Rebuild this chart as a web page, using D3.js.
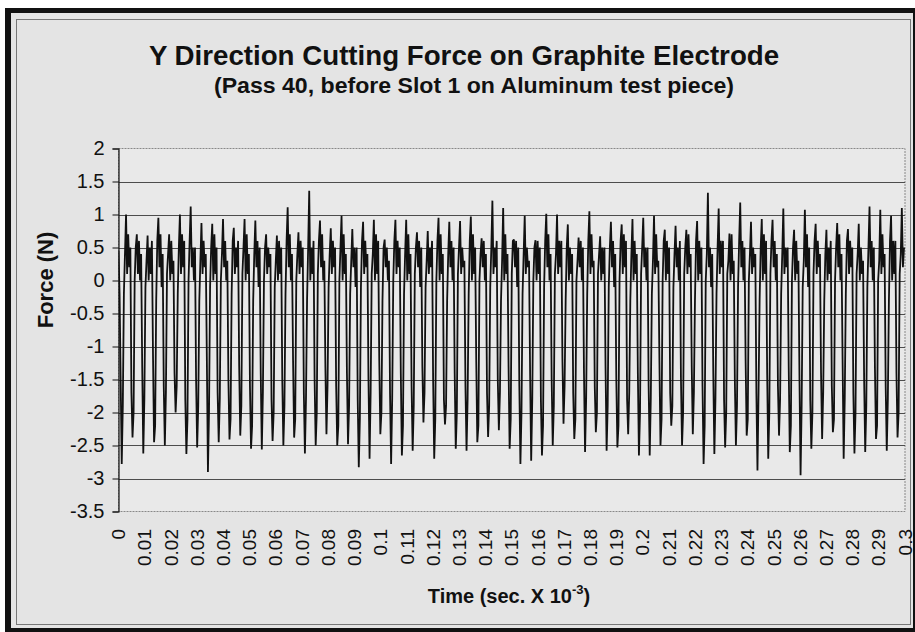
<!DOCTYPE html>
<html>
<head>
<meta charset="utf-8">
<script src="https://cdn.jsdelivr.net/npm/d3@7"></script>
<style>
  body { margin: 0; background: #fff; }
  svg { display: block; font-family: Arial, "Liberation Sans", sans-serif; }
</style>
</head>
<body>
<div id="chart"></div>
<script>
// Y force samples. Each row is one tool-pass cycle:
// [before dip, dip minimum, after dip, rising, top band ..., peak, top band ...]
const leadIn = [0.45, -0.2];
const forceByCycle = [
  [-1.5, -2.78, -1.9, -0.2, 0.4, 1.0, 0.1, 0.7, 0.2, 0.5],
  [-1.7, -2.38, -2.0, 0.0, 0.5, 0.7, 0.1, 0.6, 0.0, 0.4],
  [-1.3, -2.62, -1.8, -0.1, 0.3, 0.68, 0.0, 0.5, 0.1, 0.6],
  [-1.1, -2.45, -2.2, -0.3, 0.6, 0.95, 0.2, 0.7, -0.1, 0.4],
  [-1.6, -2.5, -1.7, 0.1, 0.4, 0.7, 0.0, 0.6, 0.1, 0.3],
  [-1.4, -2.0, -1.6, -0.2, 0.5, 1.0, 0.1, 0.7, 0.2, 0.6],
  [-1.8, -2.63, -2.1, 0.0, 0.6, 1.12, 0.2, 0.5, 0.0, 0.5],
  [-1.5, -2.53, -1.9, -0.3, 0.3, 0.87, 0.1, 0.6, 0.2, 0.4],
  [-1.2, -2.9, -2.0, -0.1, 0.5, 0.86, 0.0, 0.7, 0.1, 0.5],
  [-1.7, -2.45, -1.8, 0.0, 0.4, 0.93, 0.2, 0.6, 0.0, 0.3],
  [-1.5, -2.41, -2.1, -0.2, 0.6, 0.8, 0.1, 0.5, 0.2, 0.6],
  [-1.3, -2.35, -1.9, 0.1, 0.5, 0.93, 0.0, 0.7, 0.1, 0.4],
  [-1.6, -2.55, -2.2, -0.3, 0.4, 0.91, 0.2, 0.6, -0.1, 0.5],
  [-1.4, -2.56, -1.7, 0.0, 0.5, 0.7, 0.1, 0.5, 0.2, 0.4],
  [-1.8, -2.43, -2.0, -0.1, 0.3, 0.68, 0.0, 0.6, 0.1, 0.5],
  [-1.5, -2.5, -1.9, -0.2, 0.6, 1.11, 0.2, 0.7, 0.0, 0.4],
  [-1.2, -2.38, -2.1, 0.0, 0.4, 0.73, 0.1, 0.6, 0.2, 0.5],
  [-1.7, -2.62, -1.8, -0.3, 0.5, 1.36, 0.0, 0.5, 0.1, 0.6],
  [-1.5, -2.5, -2.0, 0.1, 0.6, 0.91, 0.2, 0.7, 0.0, 0.3],
  [-1.3, -2.33, -1.6, -0.1, 0.4, 0.79, 0.1, 0.6, 0.2, 0.5],
  [-1.6, -2.5, -2.2, 0.0, 0.5, 0.98, 0.0, 0.7, 0.1, 0.4],
  [-1.4, -2.48, -1.9, -0.2, 0.3, 0.78, 0.2, 0.5, -0.1, 0.5],
  [-1.8, -2.83, -2.1, -0.1, 0.6, 0.89, 0.1, 0.6, 0.2, 0.4],
  [-1.5, -2.7, -1.7, 0.1, 0.4, 0.92, 0.0, 0.7, 0.1, 0.6],
  [-1.2, -2.33, -2.0, -0.3, 0.5, 0.62, 0.2, 0.5, 0.0, 0.3],
  [-1.7, -2.78, -1.8, 0.0, 0.6, 0.92, 0.1, 0.6, 0.2, 0.5],
  [-1.4, -2.65, -2.2, -0.2, 0.4, 0.92, 0.0, 0.7, 0.1, 0.4],
  [-1.6, -2.58, -1.9, 0.1, 0.5, 0.73, 0.2, 0.6, -0.1, 0.5],
  [-1.3, -2.15, -1.7, -0.1, 0.3, 0.75, 0.1, 0.5, 0.2, 0.6],
  [-1.5, -2.7, -2.1, 0.0, 0.6, 0.95, 0.0, 0.7, 0.1, 0.4],
  [-1.8, -2.18, -1.9, -0.3, 0.4, 0.89, 0.2, 0.6, 0.0, 0.5],
  [-1.4, -2.55, -2.0, 0.1, 0.5, 0.9, 0.1, 0.5, 0.2, 0.3],
  [-1.6, -2.58, -1.8, -0.2, 0.6, 0.97, 0.0, 0.7, 0.1, 0.5],
  [-1.2, -2.45, -2.2, 0.0, 0.4, 0.64, 0.2, 0.6, 0.0, 0.4],
  [-1.7, -2.37, -1.9, -0.1, 0.5, 1.21, 0.1, 0.5, 0.2, 0.6],
  [-1.5, -2.27, -1.7, -0.3, 0.3, 1.1, 0.0, 0.7, 0.1, 0.4],
  [-1.3, -2.55, -2.1, 0.1, 0.6, 0.62, 0.2, 0.6, -0.1, 0.5],
  [-1.6, -2.78, -2.0, -0.2, 0.4, 0.98, 0.1, 0.5, 0.2, 0.3],
  [-1.4, -2.73, -1.8, 0.0, 0.5, 0.61, 0.0, 0.6, 0.1, 0.5],
  [-1.8, -2.65, -2.2, -0.1, 0.6, 1.01, 0.2, 0.7, 0.0, 0.4],
  [-1.5, -2.5, -1.9, 0.1, 0.4, 1.0, 0.1, 0.6, 0.2, 0.6],
  [-1.2, -2.17, -1.6, -0.3, 0.5, 0.85, 0.0, 0.5, 0.1, 0.4],
  [-1.7, -2.4, -2.1, 0.0, 0.3, 0.65, 0.2, 0.6, 0.0, 0.5],
  [-1.4, -2.6, -1.8, -0.2, 0.6, 1.05, 0.1, 0.7, 0.2, 0.3],
  [-1.6, -2.3, -2.0, 0.1, 0.4, 0.67, 0.0, 0.5, 0.1, 0.5],
  [-1.3, -2.58, -1.9, -0.1, 0.5, 0.89, 0.2, 0.6, -0.1, 0.4],
  [-1.5, -2.53, -2.2, 0.0, 0.6, 0.85, 0.1, 0.7, 0.2, 0.6],
  [-1.8, -2.33, -1.7, -0.3, 0.4, 0.93, 0.0, 0.6, 0.1, 0.4],
  [-1.4, -2.65, -2.0, 0.1, 0.5, 0.95, 0.2, 0.5, 0.0, 0.5],
  [-1.6, -2.65, -1.8, -0.2, 0.3, 0.98, 0.1, 0.7, 0.2, 0.3],
  [-1.2, -2.5, -2.1, 0.0, 0.6, 0.77, 0.0, 0.6, 0.1, 0.5],
  [-1.7, -2.2, -1.9, -0.1, 0.4, 0.83, 0.2, 0.5, 0.0, 0.6],
  [-1.5, -2.5, -2.0, 0.1, 0.5, 0.77, 0.1, 0.7, 0.2, 0.4],
  [-1.3, -2.33, -1.7, -0.3, 0.6, 0.9, 0.0, 0.6, 0.1, 0.5],
  [-1.6, -2.78, -2.2, 0.0, 0.4, 1.33, 0.2, 0.5, -0.1, 0.4],
  [-1.4, -2.63, -1.8, -0.2, 0.5, 1.09, 0.1, 0.6, 0.2, 0.6],
  [-1.8, -2.53, -2.0, 0.1, 0.3, 0.71, 0.0, 0.7, 0.1, 0.3],
  [-1.5, -2.5, -1.9, -0.1, 0.6, 1.18, 0.2, 0.6, 0.0, 0.5],
  [-1.2, -2.35, -2.1, 0.0, 0.4, 0.89, 0.1, 0.5, 0.2, 0.4],
  [-1.7, -2.88, -1.7, -0.3, 0.5, 0.93, 0.0, 0.7, 0.1, 0.6],
  [-1.4, -2.7, -2.0, 0.1, 0.6, 0.92, 0.2, 0.6, 0.0, 0.4],
  [-1.6, -2.35, -1.8, -0.2, 0.4, 1.09, 0.1, 0.5, 0.2, 0.5],
  [-1.3, -2.6, -2.2, 0.0, 0.5, 0.77, 0.0, 0.6, 0.1, 0.3],
  [-1.5, -2.95, -1.9, -0.1, 0.3, 1.07, 0.2, 0.7, -0.1, 0.5],
  [-1.8, -2.55, -2.0, 0.1, 0.6, 0.86, 0.1, 0.6, 0.2, 0.4],
  [-1.4, -2.4, -1.7, -0.3, 0.4, 0.77, 0.0, 0.5, 0.1, 0.6],
  [-1.6, -2.3, -2.1, 0.0, 0.5, 0.87, 0.2, 0.7, 0.0, 0.4],
  [-1.2, -2.7, -1.8, -0.2, 0.6, 0.78, 0.1, 0.6, 0.2, 0.5],
  [-1.7, -2.62, -2.0, 0.1, 0.4, 0.86, 0.0, 0.5, 0.1, 0.3],
  [-1.5, -2.6, -1.9, -0.1, 0.5, 1.12, 0.2, 0.6, 0.0, 0.5],
  [-1.3, -2.4, -2.2, 0.0, 0.3, 1.07, 0.1, 0.7, 0.2, 0.4],
  [-1.6, -2.58, -1.8, -0.3, 0.6, 0.98, 0.0, 0.6, 0.1, 0.6],
  [-1.4, -2.38, -2.0, 0.1, 0.4, 1.1, 0.2, 0.5]
];
const sampleStep = 0.000411; // sec x 10^-3 between samples

const yTicks = [2, 1.5, 1, 0.5, 0, -0.5, -1, -1.5, -2, -2.5, -3, -3.5];
const xTickLabels = ["0", "0.01", "0.02", "0.03", "0.04", "0.05", "0.06", "0.07", "0.08", "0.09",
  "0.1", "0.11", "0.12", "0.13", "0.14", "0.15", "0.16", "0.17", "0.18", "0.19",
  "0.2", "0.21", "0.22", "0.23", "0.24", "0.25", "0.26", "0.27", "0.28", "0.29", "0.3"];

const width = 915;
const height = 632;
const plot = { left: 118.5, right: 905, top: 148.5, bottom: 511.5 };

const svg = d3.select("#chart").append("svg")
  .attr("width", width)
  .attr("height", height);

// outer frame
svg.append("rect").attr("x", 5).attr("y", 8).attr("width", 910).attr("height", 624).attr("fill", "#111");
svg.append("rect").attr("x", 11).attr("y", 13).attr("width", 902).attr("height", 615).attr("fill", "#e4e4e4");
svg.append("rect").attr("x", 16.5).attr("y", 19.5).attr("width", 894).attr("height", 605)
  .attr("fill", "none").attr("stroke", "#777").attr("stroke-width", 1);

const x = d3.scaleLinear().domain([0, 0.3]).range([plot.left, plot.right]);
const y = d3.scaleLinear().domain([-3.5, 2]).range([plot.bottom, plot.top]);

// plot area
svg.append("rect")
  .attr("x", plot.left).attr("y", plot.top)
  .attr("width", plot.right - plot.left).attr("height", plot.bottom - plot.top)
  .attr("fill", "#e9e9e9")
  .attr("stroke", "#888").attr("stroke-dasharray", "2,1");

// horizontal gridlines
svg.append("g")
  .selectAll("line")
  .data(yTicks.filter(d => d < 2 && d > -3.5))
  .join("line")
  .attr("x1", plot.left).attr("x2", plot.right)
  .attr("y1", d => Math.round(y(d)) + 0.5).attr("y2", d => Math.round(y(d)) + 0.5)
  .attr("stroke", "#4d4d4d").attr("stroke-width", 1.2);

// signal
const series = leadIn.concat(forceByCycle.flat());
const line = d3.line()
  .x((d, i) => x(i * sampleStep))
  .y(d => y(d));

svg.append("clipPath").attr("id", "clip")
  .append("rect")
  .attr("x", plot.left).attr("y", plot.top)
  .attr("width", plot.right - plot.left).attr("height", plot.bottom - plot.top);

svg.append("path")
  .datum(series)
  .attr("clip-path", "url(#clip)")
  .attr("fill", "none")
  .attr("stroke", "#111")
  .attr("stroke-width", 1.8)
  .attr("stroke-linejoin", "bevel")
  .attr("d", line);

// y axis
const yAxis = d3.axisLeft(y)
  .tickValues(yTicks)
  .tickSize(6)
  .tickPadding(8)
  .tickFormat(d3.format("~g"));

const yg = svg.append("g")
  .attr("transform", `translate(${plot.left},0)`)
  .call(yAxis);
yg.select(".domain").attr("stroke", "#111").attr("stroke-width", 1.2);
yg.selectAll(".tick line").attr("stroke", "#111");
yg.selectAll(".tick text")
  .attr("font-size", 20)
  .attr("fill", "#111")
  .attr("font-family", "Arial, 'Liberation Sans', sans-serif")
  .text(d => d < 0 ? "-" + Math.abs(d) : d);

// x tick labels (rotated)
svg.append("g")
  .selectAll("text")
  .data(xTickLabels)
  .join("text")
  .attr("transform", d => `translate(${x(+d)},529) rotate(-90)`)
  .attr("text-anchor", "end")
  .attr("dy", "0.35em")
  .attr("font-size", 19)
  .attr("fill", "#111")
  .text(d => d);

// titles
svg.append("text")
  .attr("x", 464).attr("y", 65)
  .attr("text-anchor", "middle")
  .attr("font-size", 27.7)
  .attr("font-weight", "bold")
  .attr("fill", "#111")
  .text("Y Direction Cutting Force on Graphite Electrode");

svg.append("text")
  .attr("x", 474).attr("y", 93)
  .attr("text-anchor", "middle")
  .attr("font-size", 22)
  .attr("font-weight", "bold")
  .attr("fill", "#111")
  .attr("textLength", 520)
  .attr("lengthAdjust", "spacingAndGlyphs")
  .text("(Pass 40, before Slot 1 on Aluminum test piece)");

svg.append("text")
  .attr("transform", "translate(53,280) rotate(-90)")
  .attr("text-anchor", "middle")
  .attr("font-size", 22)
  .attr("font-weight", "bold")
  .attr("fill", "#111")
  .text("Force (N)");

const xTitle = svg.append("text")
  .attr("x", 509).attr("y", 603)
  .attr("text-anchor", "middle")
  .attr("font-size", 20)
  .attr("font-weight", "bold")
  .attr("fill", "#111");
xTitle.append("tspan").text("Time (sec. X 10");
xTitle.append("tspan").attr("dy", -9).attr("font-size", 13).text("-3");
xTitle.append("tspan").attr("dy", 9).text(")");
</script>
</body>
</html>
